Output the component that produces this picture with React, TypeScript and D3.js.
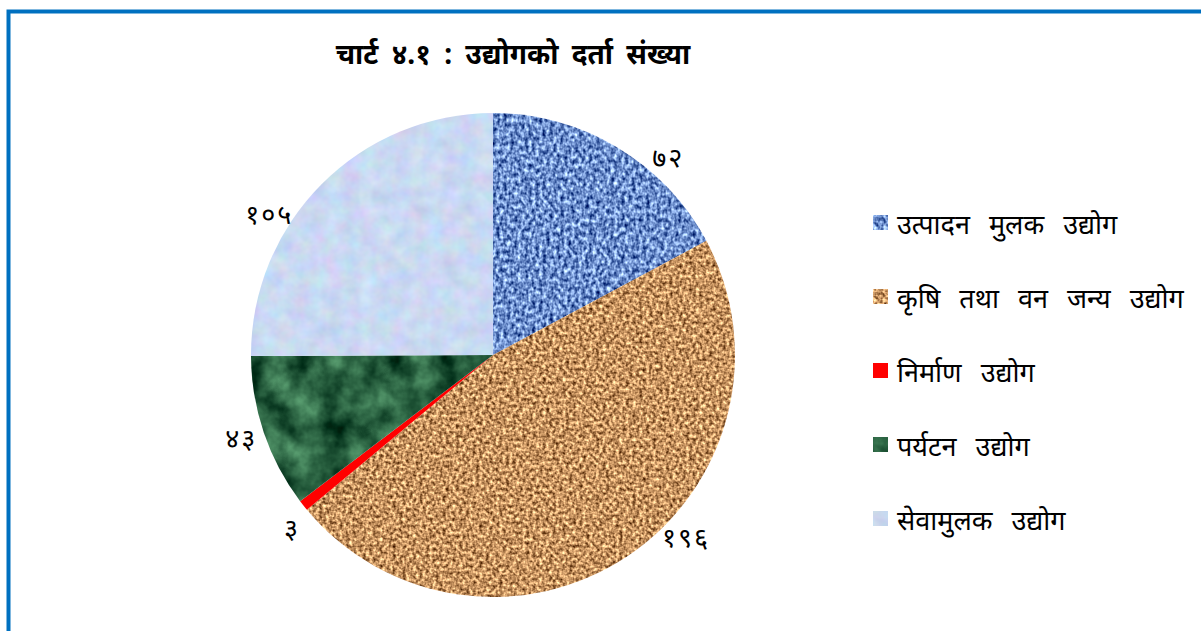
import { useEffect, useRef } from 'react';
import * as d3 from 'd3';

const title = 'चार्ट ४.१ : उद्योगको दर्ता संख्या';
const categories = [
  'उत्पादन मुलक उद्योग',
  'कृषि तथा वन जन्य उद्योग',
  'निर्माण उद्योग',
  'पर्यटन उद्योग',
  'सेवामुलक उद्योग',
];
const values = [72, 196, 3, 43, 105];
// labels in the original were dragged a little off the slice middle (degrees)
const labelShift = [10.5, -12.8, -2.2, 0.5, -12.5];

const devDigits = ['०', '१', '२', '३', '४', '५', '६', '७', '८', '९'];
const toDev = (n: number) => String(n).split('').map((c) => devDigits[+c]).join('');

// texture settings: base colour, noise contrast, frequency, octaves
const textures = [
  { id: 'tex-blue', base: [0.43, 0.56, 0.8], k: [1.4, 1.4, 1.2], freq: '0.28 0.22', oct: 2 },
  { id: 'tex-cork', base: [0.78, 0.58, 0.38], k: [1.4, 1.3, 1.1], freq: '0.3', oct: 2 },
  { id: 'tex-red', base: [1, 0, 0], k: [0, 0, 0], freq: '0.1', oct: 1 },
  { id: 'tex-green', base: [0.17, 0.39, 0.26], k: [0.55, 0.7, 0.55], freq: '0.035', oct: 4 },
  { id: 'tex-light', base: [0.79, 0.85, 0.95], k: [0.18, 0.16, 0.12], freq: '0.06', oct: 3 },
];

export default function App() {
  const svgRef = useRef<SVGSVGElement>(null);

  useEffect(() => {
    if (!svgRef.current) return;
    const svg = d3.select(svgRef.current);
    svg.selectAll('*').remove();

    const font = "'Noto Sans', 'Noto Sans Devanagari', 'Lohit Devanagari', sans-serif";
    const cx = 493;
    const cy = 355;
    const radius = 242;

    // 텍스처 필터
    const defs = svg.append('defs');
    textures.forEach((t) => {
      const f = defs
        .append('filter')
        .attr('id', t.id)
        .attr('color-interpolation-filters', 'sRGB')
        .attr('x', '-5%')
        .attr('y', '-5%')
        .attr('width', '110%')
        .attr('height', '110%');
      f.append('feTurbulence')
        .attr('type', 'fractalNoise')
        .attr('baseFrequency', t.freq)
        .attr('numOctaves', t.oct)
        .attr('seed', 3)
        .attr('result', 'noise');
      const row = (i: number) => {
        const m = [0, 0, 0, 0, 0];
        if (t.id === 'tex-light') {
          m[i] = t.k[i];
        } else {
          m[0] = t.k[i];
        }
        m[4] = t.base[i] - t.k[i] * 0.5;
        return m.join(' ');
      };
      f.append('feColorMatrix')
        .attr('in', 'noise')
        .attr('type', 'matrix')
        .attr('values', `${row(0)} ${row(1)} ${row(2)} 0 0 0 0 1`)
        .attr('result', 'col');
      f.append('feComposite')
        .attr('in', 'col')
        .attr('in2', 'SourceGraphic')
        .attr('operator', 'in');
    });

    // 테두리
    svg
      .append('rect')
      .attr('x', 8.5)
      .attr('y', 11.5)
      .attr('width', 1300)
      .attr('height', 800)
      .attr('fill', 'none')
      .attr('stroke', '#0070c0')
      .attr('stroke-width', 4);

    // 제목
    svg
      .append('text')
      .attr('x', 513)
      .attr('y', 64)
      .attr('text-anchor', 'middle')
      .style('font-family', font)
      .style('font-size', '28px')
      .style('font-weight', 'bold')
      .style('word-spacing', '6px')
      .style('fill', '#000')
      .text(title);

    const pie = d3.pie<number>().sort(null).value((d) => d);
    const arcs = pie(values);
    const arc = d3.arc<d3.PieArcDatum<number>>().innerRadius(0).outerRadius(radius);

    const g = svg.append('g').attr('transform', `translate(${cx},${cy})`);

    g.selectAll('path.slice')
      .data(arcs)
      .enter()
      .append('path')
      .attr('class', 'slice')
      .attr('d', arc)
      .attr('fill', '#000')
      .attr('filter', (d, i) => `url(#${textures[i].id})`);

    // 데이터 레이블
    const labelR = 265;
    g.selectAll('text.lbl')
      .data(arcs)
      .enter()
      .append('text')
      .attr('class', 'lbl')
      .attr('x', (d, i) => {
        const a = (d.startAngle + d.endAngle) / 2 + (labelShift[i] * Math.PI) / 180;
        return Math.sin(a) * labelR;
      })
      .attr('y', (d, i) => {
        const a = (d.startAngle + d.endAngle) / 2 + (labelShift[i] * Math.PI) / 180;
        return -Math.cos(a) * labelR;
      })
      .attr('text-anchor', 'middle')
      .attr('dominant-baseline', 'central')
      .style('font-family', font)
      .style('font-size', '27px')
      .style('letter-spacing', '2px')
      .style('fill', '#000')
      .text((d) => toDev(d.data));

    // 범례
    const legendY = d3
      .scalePoint<string>()
      .domain(categories)
      .range([222, 518]);

    const legend = svg
      .selectAll('g.leg')
      .data(categories)
      .enter()
      .append('g')
      .attr('class', 'leg')
      .attr('transform', (d) => `translate(873,${legendY(d)})`);

    legend
      .append('rect')
      .attr('x', 0)
      .attr('y', -7)
      .attr('width', 15)
      .attr('height', 15)
      .attr('fill', '#000')
      .attr('filter', (d, i) => `url(#${textures[i].id})`);

    legend
      .append('text')
      .attr('x', 24)
      .attr('y', 1)
      .attr('dominant-baseline', 'central')
      .style('font-family', font)
      .style('font-size', '27px')
      .style('word-spacing', '12px')
      .style('fill', '#000')
      .text((d) => d);
  }, []);

  return (
    <svg
      ref={svgRef}
      width={1201}
      height={631}
      style={{ position: 'absolute', left: 0, top: 0, background: '#fff', display: 'block' }}
    ></svg>
  );
}
